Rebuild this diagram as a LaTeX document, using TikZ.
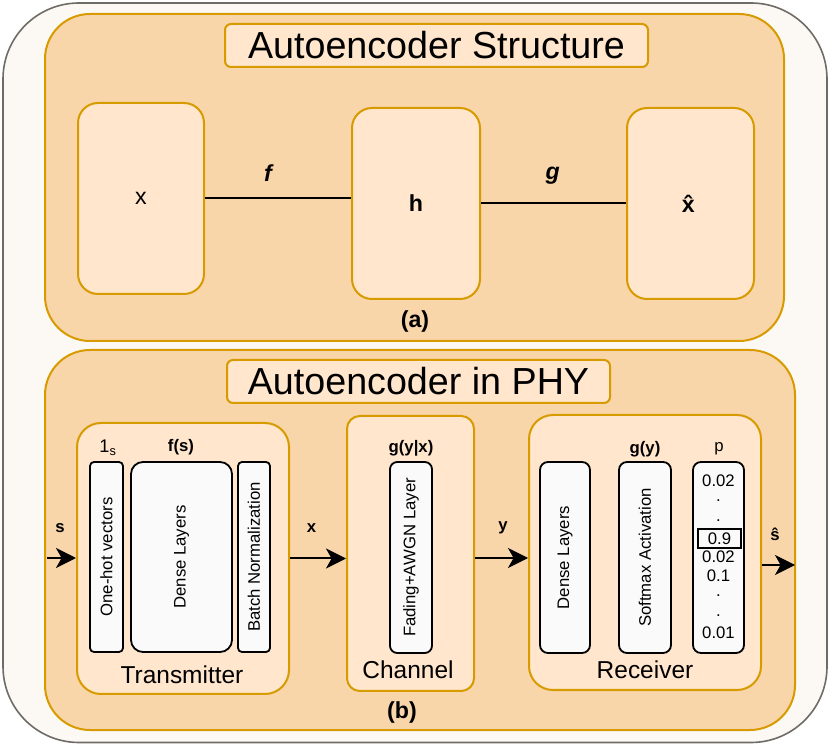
\documentclass[tikz,border=0pt]{standalone}
\usepackage{fontspec}
\setmainfont{Liberation Sans}
\usetikzlibrary{arrows.meta}
\definecolor{framegray}{HTML}{6F6B66}
\definecolor{framefill}{HTML}{FCF8F3}
\definecolor{panelfill}{HTML}{F9D6AA}
\definecolor{boxfill}{HTML}{FFE6CC}
\definecolor{boxline}{HTML}{D79B00}
\definecolor{layerfill}{HTML}{FAFAFA}
\begin{document}
\begin{tikzpicture}[
    panel/.style={draw=boxline, fill=panelfill, line width=0.050cm, rounded corners=1.125cm},
    orangebox/.style={draw=boxline, fill=boxfill, line width=0.050cm, inner sep=0pt},
    layer/.style={draw=black, fill=layerfill, line width=0.045cm, inner sep=0pt, rotate=90, font=\fontsize{11.9}{13}\selectfont},
    tiny/.style={inner sep=0pt, font=\fontsize{11.9}{13}\selectfont},
    caption/.style={inner sep=0pt, font=\fontsize{17.4}{20}\selectfont},
    letter/.style={inner sep=0pt, font=\fontsize{16.5}{18}\selectfont},
    arr/.style={line width=0.050cm, -{Stealth[length=0.50cm,width=0.50cm,inset=0.14cm]}}
  ]
  \useasboundingbox (0,0) rectangle (20.75,18.7);
  % Drawing outer frame
  \draw [framegray, fill=framefill, line width=0.040cm, rounded corners=1.9cm] (0.075,0.1375) rectangle (20.675,18.625);%

  % Drawing panel (a)
  \draw [panel] (1.125,10.175) rectangle (19.600,18.350);%
  \node [orangebox, rounded corners=0.15cm, minimum width=10.575cm, minimum height=1.075cm,
    font=\fontsize{26.8}{30}\selectfont] (titlea) at (10.9125,17.5625) {Autoencoder Structure};%

  % Drawing boxes x, h and x hat
  \node [orangebox, rounded corners=0.5cm, minimum width=3.150cm, minimum height=4.775cm, letter] (xin) at (3.5250,13.7375) {x};%
  \node [orangebox, rounded corners=0.5cm, minimum width=3.200cm, minimum height=4.775cm, letter] (hid) at (10.4000,13.6125) {\textbf{h}};%
  \node [orangebox, rounded corners=0.5cm, minimum width=3.175cm, minimum height=4.775cm, letter] (xhat) at (17.2625,13.6125) {\textbf{\^{x}}};%

  % Drawing segments f and g
  \draw [line width=0.050cm] (xin.east) -- (xin.east -| hid.west);%
  \draw [line width=0.050cm] (hid.east) -- (xhat.west);%
  \node [letter] (flabel) at (6.7250,14.3750) {\textbf{\textit{f}}};%
  \node [letter] (glabel) at (13.8175,14.3000) {\textbf{\textit{g}}};%
  \node [letter] (capa) at (10.3750,10.6500) {\textbf{(a)}};%

  % Drawing panel (b)
  \draw [panel] (1.125,0.450) rectangle (19.875,9.950);%
  \node [orangebox, rounded corners=0.15cm, minimum width=9.575cm, minimum height=1.075cm,
    font=\fontsize{26.8}{30}\selectfont] (titleb) at (10.4625,9.1625) {Autoencoder in PHY};%

  % Transmitter
  \node [orangebox, rounded corners=0.6cm, minimum width=5.300cm, minimum height=6.775cm] (tx) at (4.5750,4.7375) {};%
  \node [layer, rounded corners=0.10cm, minimum width=4.750cm, minimum height=0.825cm] (onehot) at (2.6625,4.7750) {One-hot vectors};%
  \node [layer, rounded corners=0.30cm, minimum width=4.750cm, minimum height=2.525cm] (densetx) at (4.5375,4.7750) {Dense Layers};%
  \node [layer, rounded corners=0.10cm, minimum width=4.750cm, minimum height=0.800cm] (batchnorm) at (6.3500,4.7750) {Batch Normalization};%
  \node [tiny, font=\fontsize{13}{14}\selectfont] (onesub) at (2.7000,7.5000) {1\textsubscript{s}};%
  \node [tiny] (fs) at (4.5250,7.5250) {\textbf{f(s)}};%
  \node [caption] (txname) at (4.5500,1.8250) {Transmitter};%

  % Channel
  \node [orangebox, rounded corners=0.32cm, minimum width=3.175cm, minimum height=6.875cm] (ch) at (10.2625,4.8625) {};%
  \node [layer, rounded corners=0.18cm, minimum width=4.775cm, minimum height=1.050cm] (fading) at (10.2750,4.7625) {Fading+AWGN Layer};%
  \node [tiny] (gyx) at (10.2750,7.5000) {\textbf{g(y|x)}};%
  \node [caption] (chname) at (10.2000,1.9500) {Channel};%

  % Receiver
  \node [orangebox, rounded corners=0.6cm, minimum width=5.800cm, minimum height=6.875cm] (rx) at (16.1250,4.8875) {};%
  \node [layer, rounded corners=0.20cm, minimum width=4.775cm, minimum height=1.250cm] (denserx) at (14.1250,4.7625) {Dense Layers};%
  \node [layer, rounded corners=0.20cm, minimum width=4.775cm, minimum height=1.300cm] (softmax) at (16.1250,4.7625) {Softmax Activation};%
  \node [draw=black, fill=layerfill, line width=0.045cm, inner sep=0pt, rounded corners=0.20cm,
    minimum width=1.275cm, minimum height=4.775cm] (pvec) at (17.9625,4.7625) {};%
  \node [tiny] (gy) at (16.1250,7.4750) {\textbf{g(y)}};%
  \node [tiny] (plabel) at (17.9750,7.4750) {p};%
  \node [tiny, draw=black, line width=0.045cm, minimum width=1.075cm, minimum height=0.475cm] (pmax) at (17.9875,5.2375) {0.9};%
  \foreach \val/\yy [count=\i] in {0.02/6.675, ./6.175, ./5.675, 0.02/4.775, 0.1/4.300, ./3.800, ./3.300, 0.01/2.875}
    \node [tiny] (p\i) at (17.9625,\yy) {\val};%
  \node [caption] (rxname) at (16.1250,1.9500) {Receiver};%

  % Drawing arrows s, x, y and s hat
  \coordinate (sin) at (1.175,4.750);
  \coordinate (sout) at (19.875,4.575);
  \draw [arr] (sin) -- (sin -| tx.west);%
  \draw [arr] (tx.east) -- (tx.east -| ch.west);%
  \draw [arr] (ch.east |- sin) -- (rx.west |- sin);%
  \draw [arr] (sout -| rx.east) -- (sout);%
  \node [tiny] (slabel) at (1.5000,5.5000) {\textbf{s}};%
  \node [tiny] (xlabel) at (7.7900,5.5000) {\textbf{x}};%
  \node [tiny] (ylabel) at (12.5750,5.5000) {\textbf{y}};%
  \node [tiny] (shat) at (19.3750,5.3500) {\textbf{ŝ}};%
  \node [letter] (capb) at (10.0500,0.8750) {\textbf{(b)}};%
\end{tikzpicture}
\end{document}
